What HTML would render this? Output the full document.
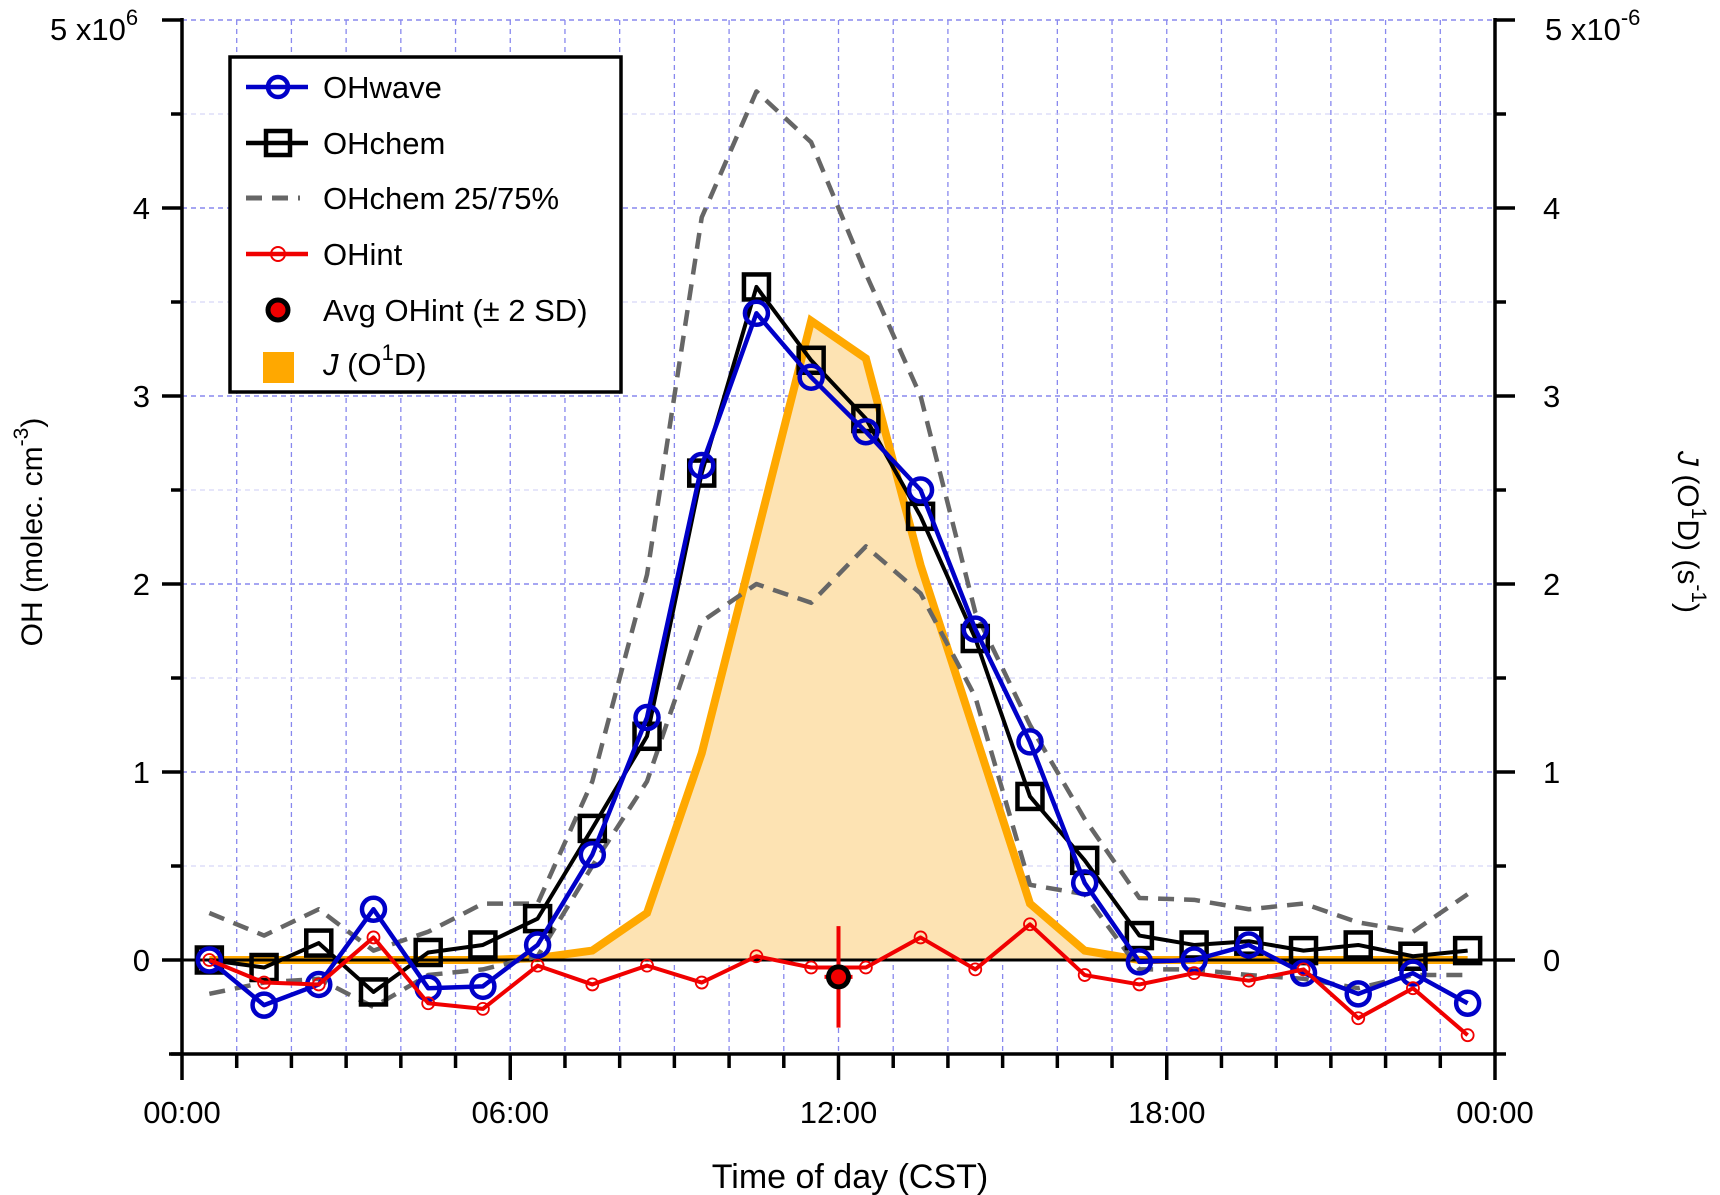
<!DOCTYPE html>
<html><head><meta charset="utf-8"><style>
html,body{margin:0;padding:0;background:#fff;}
svg{display:block;font-family:"Liberation Sans",Arial,sans-serif;}
</style></head><body>
<svg id="chart" width="1720" height="1195" viewBox="0 0 1720 1195" xmlns="http://www.w3.org/2000/svg">
<g id="grid"></g>
<g id="jfill"></g>
<g id="series"></g>
<g id="axes"></g>
<g id="legend"></g>
</svg>
<script>
const hours = [0.5,1.5,2.5,3.5,4.5,5.5,6.5,7.5,8.5,9.5,10.5,11.5,12.5,13.5,14.5,15.5,16.5,17.5,18.5,19.5,20.5,21.5,22.5,23.5];
const ohWave = [0,-0.24,-0.13,0.27,-0.15,-0.14,0.08,0.56,1.29,2.63,3.44,3.10,2.81,2.50,1.76,1.16,0.41,-0.01,0,0.08,-0.07,-0.18,-0.07,-0.23];
const ohChem = [0,-0.04,0.09,-0.17,0.04,0.08,0.22,0.70,1.19,2.59,3.58,3.19,2.88,2.36,1.71,0.87,0.53,0.13,0.08,0.10,0.05,0.08,0.02,0.05];
const ohInt = [0,-0.12,-0.13,0.12,-0.23,-0.26,-0.03,-0.13,-0.03,-0.12,0.02,-0.04,-0.04,0.12,-0.05,0.19,-0.08,-0.13,-0.07,-0.11,-0.05,-0.31,-0.15,-0.40];
const ohChem75 = [0.25,0.13,0.27,0.05,0.15,0.30,0.30,0.95,2.05,3.95,4.62,4.35,3.65,3.0,1.85,1.25,0.75,0.33,0.32,0.27,0.30,0.20,0.15,0.35];
const ohChem25 = [-0.18,-0.12,-0.10,-0.25,-0.08,-0.05,0.02,0.50,0.95,1.80,2.00,1.90,2.20,1.95,1.40,0.40,0.35,-0.05,-0.05,-0.08,-0.10,-0.15,-0.08,-0.08];
const jO1D = [0,0,0,0,0,0,0.01,0.05,0.25,1.1,2.25,3.4,3.2,2.1,1.2,0.3,0.05,0,0,0,0,0,0,0];
const avgHour = [12];
const avgOHint = [-0.09];
const avgSD = [0.27];
const yTicks = [0,1,2,3,4];
const xTickHours = [0,6,12,18,24];
const xTickLabels = ["00:00","06:00","12:00","18:00","00:00"];

const NS="http://www.w3.org/2000/svg";
const X0=182,X1=1495,Y0=960,PU=188;
const xs=h=>X0+(X1-X0)*h/24;
const ys=v=>Y0-v*PU;
function mk(parent,tag,attrs,text){const e=document.createElementNS(NS,tag);for(const k in attrs)e.setAttribute(k,attrs[k]);if(text!==undefined)e.textContent=text;parent.appendChild(e);return e;}
const grid=document.getElementById('grid'),axes=document.getElementById('axes'),ser=document.getElementById('series'),jf=document.getElementById('jfill'),leg=document.getElementById('legend');

for(let h=1;h<24;h++){const l=mk(grid,'line',{x1:xs(h),x2:xs(h),y1:ys(5),y2:ys(-0.5),stroke:'#8888ee','stroke-width':1.3,'stroke-dasharray':'5,4'});

}
for(let v=-0.5;v<=4.51;v+=0.5){if(Math.abs(v)<0.01)continue;const maj=Math.abs(v-Math.round(v))<0.01;const l=mk(grid,'line',{x1:X0,x2:X1,y1:ys(v),y2:ys(v),stroke:maj?'#8888ee':'#ccccf4','stroke-width':maj?1.5:1,'stroke-dasharray':'5,4'});

}
mk(grid,'line',{x1:X0,x2:X1,y1:ys(5),y2:ys(5),stroke:'#8888ee','stroke-width':1.5,'stroke-dasharray':'5,4'});

let pts=hours.map((h,i)=>xs(h)+','+ys(jO1D[i])).join(' ');
const poly=mk(jf,'polygon',{points:xs(hours[0])+','+ys(0)+' '+pts+' '+xs(hours[23])+','+ys(0),fill:'#fde3b3',stroke:'none'});


const jl=mk(jf,'polyline',{points:pts,fill:'none',stroke:'#ffa800','stroke-width':8,'stroke-linejoin':'miter'});



mk(ser,'line',{x1:X0,x2:X1,y1:ys(0),y2:ys(0),stroke:'#000','stroke-width':3});

function line(arr,color,w,dash,name){const p=mk(ser,'polyline',{points:hours.map((h,i)=>xs(h)+','+ys(arr[i])).join(' '),fill:'none',stroke:color,'stroke-width':w,'stroke-dasharray':dash||'none','stroke-linejoin':'round'});

}
line(ohChem75,'#666',4.5,'16,10','ohchem-75-line');
line(ohChem25,'#666',4.5,'16,10','ohchem-25-line');
line(ohChem,'#000',4,null,'ohchem-line');
hours.forEach((h,i)=>{const r=mk(ser,'rect',{x:xs(h)-12.5,y:ys(ohChem[i])-12.5,width:25,height:25,fill:'none',stroke:'#000','stroke-width':4.5});

});
line(ohWave,'#0000c8',4.5,null,'ohwave-line');
hours.forEach((h,i)=>{const c=mk(ser,'circle',{cx:xs(h),cy:ys(ohWave[i]),r:11.5,fill:'none',stroke:'#0000c8','stroke-width':4.5});

});
line(ohInt,'#f00000',4,null,'ohint-line');
hours.forEach((h,i)=>{const c=mk(ser,'circle',{cx:xs(h),cy:ys(ohInt[i]),r:6,fill:'none',stroke:'#f00000','stroke-width':1.8});

});
avgHour.forEach((h,i)=>{const eb=mk(ser,'line',{x1:xs(h),x2:xs(h),y1:ys(avgOHint[i]+avgSD[i]),y2:ys(avgOHint[i]-avgSD[i]),stroke:'#f00000','stroke-width':4});


const ebh=mk(ser,'line',{x1:xs(h)-14,x2:xs(h)+14,y1:ys(avgOHint[i]),y2:ys(avgOHint[i]),stroke:'#f00000','stroke-width':4});


const c=mk(ser,'circle',{cx:xs(h),cy:ys(avgOHint[i]),r:10,fill:'#f00000',stroke:'#000','stroke-width':5});

});

const A={stroke:'#000','stroke-width':3.5};
mk(axes,'line',Object.assign({x1:X0,x2:X0,y1:ys(5)-2,y2:ys(-0.5)+26},A));
mk(axes,'line',Object.assign({x1:X1,x2:X1,y1:ys(5)-2,y2:ys(-0.5)+2},A));
mk(axes,'line',Object.assign({x1:X0-13,x2:X1,y1:ys(-0.5),y2:ys(-0.5)},A));
for(let v=-0.5;v<=5.01;v+=0.5){const maj=Math.abs(v-Math.round(v))<0.01;const len=maj?20:11;
mk(axes,'line',Object.assign({x1:X0-len,x2:X0,y1:ys(v),y2:ys(v)},A));
mk(axes,'line',Object.assign({x1:X1,x2:X1+len,y1:ys(v),y2:ys(v)},A));}
for(let h=1;h<=24;h++){const maj=h%6===0;mk(axes,'line',Object.assign({x1:xs(h),x2:xs(h),y1:ys(-0.5),y2:ys(-0.5)+(maj?26:14)},A));}
yTicks.forEach(v=>{const t=mk(axes,'text',{x:X0-32,y:ys(v)+11,'font-size':31,'text-anchor':'end'},String(v));


const t2=mk(axes,'text',{x:X1+48,y:ys(v)+11,'font-size':31,'text-anchor':'start'},String(v));

});
xTickHours.forEach((h,i)=>{const t=mk(axes,'text',{x:xs(h),y:1123,'font-size':31,'text-anchor':'middle'},xTickLabels[i]);

});
</script>
<svg style="position:absolute;left:0;top:0" width="1720" height="1195" viewBox="0 0 1720 1195">
<text x="50" y="40" font-size="31" font-family="Liberation Sans, sans-serif">5 x10<tspan dy="-15" font-size="22">6</tspan></text>
<text x="1545" y="40" font-size="31" font-family="Liberation Sans, sans-serif">5 x10<tspan dy="-15" font-size="22">-6</tspan></text>
<text x="850" y="1188" font-size="34" text-anchor="middle" font-family="Liberation Sans, sans-serif">Time of day (CST)</text>
<text transform="translate(42,532) rotate(-90)" font-size="30" text-anchor="middle" font-family="Liberation Sans, sans-serif">OH (molec. cm<tspan dy="-14" font-size="21">-3</tspan><tspan dy="14">)</tspan></text>
<text transform="translate(1678,532) rotate(90)" font-size="30" text-anchor="middle" font-family="Liberation Sans, sans-serif"><tspan font-style="italic">J</tspan> (O<tspan dy="-14" font-size="21">1</tspan><tspan dy="14">D) (s</tspan><tspan dy="-14" font-size="21">-1</tspan><tspan dy="14">)</tspan></text>
<g font-family="Liberation Sans, sans-serif" font-size="31">
<rect x="230" y="57" width="391" height="335" fill="#fff" stroke="#000" stroke-width="3.5"/>
<g><line x1="246" x2="308" y1="87" y2="87" stroke="#0000c8" stroke-width="4.5"/><circle cx="278" cy="87" r="10" fill="none" stroke="#0000c8" stroke-width="4.5"/><text x="323" y="98">OHwave</text></g>
<g><line x1="246" x2="308" y1="143" y2="143" stroke="#000" stroke-width="4.5"/><rect x="266" y="131" width="24" height="24" fill="none" stroke="#000" stroke-width="4.5"/><text x="323" y="154">OHchem</text></g>
<g><line x1="246" x2="300" y1="198" y2="198" stroke="#666" stroke-width="5" stroke-dasharray="16,10"/><text x="323" y="209">OHchem 25/75%</text></g>
<g><line x1="246" x2="308" y1="254" y2="254" stroke="#f00000" stroke-width="4.5"/><circle cx="278" cy="254" r="7" fill="none" stroke="#f00000" stroke-width="2"/><text x="323" y="265">OHint</text></g>
<g><circle cx="278" cy="310" r="10" fill="#f00000" stroke="#000" stroke-width="5"/><text x="323" y="321">Avg OHint (± 2 SD)</text></g>
<g><rect x="263" y="352" width="31" height="31" fill="#ffa800"/><text x="323" y="375"><tspan font-style="italic">J</tspan> (O<tspan dy="-15" font-size="22">1</tspan><tspan dy="15">D)</tspan></text></g>
</g>
</svg>
</body></html>
